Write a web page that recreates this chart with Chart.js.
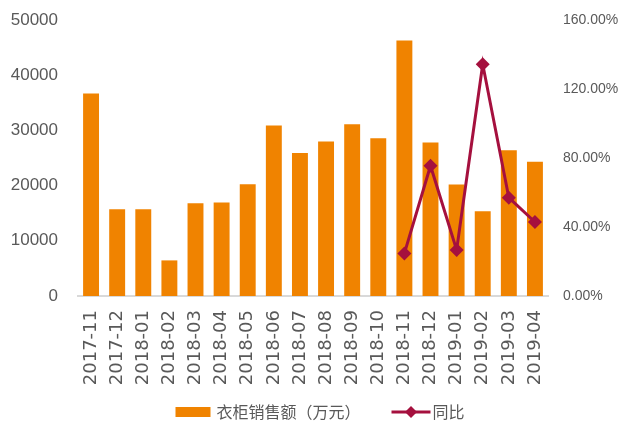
<!DOCTYPE html>
<html>
<head>
<meta charset="utf-8">
<script src="https://cdn.jsdelivr.net/npm/chart.js@4/dist/chart.umd.min.js"></script>
<style>
  html, body { margin: 0; padding: 0; background: #fff; }
  #wrap { width: 625px; height: 421px; }
</style>
</head>
<body>
<div id="wrap"><canvas id="chart"></canvas></div>
<script>
const months = ['2017-11', '2017-12', '2018-01', '2018-02', '2018-03', '2018-04', '2018-05', '2018-06', '2018-07',
  '2018-08', '2018-09', '2018-10', '2018-11', '2018-12', '2019-01', '2019-02', '2019-03', '2019-04'];
const sales = [36700, 15700, 15700, 6450, 16800, 16950, 20250, 30900, 25900,
  28000, 31100, 28600, 46300, 27800, 20200, 15350, 26400, 24300];
const yoy = [null, null, null, null, null, null, null, null, null,
  null, null, null, 24.7, 75.5, 26.7, 134.3, 57.0, 42.9];
const salesTicks = [0, 10000, 20000, 30000, 40000, 50000];
const yoyTicks = [0, 40, 80, 120, 160];

const orange = '#F08300';
const crimson = '#A5103E';
const grey = '#595959';

// legend drawn by hand so the line item can show its diamond marker
const legendPlugin = {
  id: 'bottomLegend',
  afterDraw(chart) {
    const ctx = chart.ctx;
    const ds = chart.data.datasets;
    const barLabel = ds[1].label, lineLabel = ds[0].label;
    ctx.save();
    ctx.font = '16px "Noto Sans CJK SC", sans-serif';
    const w1 = ctx.measureText(barLabel).width;
    const w2 = ctx.measureText(lineLabel).width;
    const total = 35 + 6 + w1 + 31 + 39 + 2 + w2;
    let x = 320 - total / 2;
    const y = 412;
    ctx.fillStyle = orange;
    ctx.fillRect(x, y - 5, 35, 10);
    x += 41;
    ctx.fillStyle = grey;
    ctx.textBaseline = 'middle';
    ctx.fillText(barLabel, x, y);
    x += w1 + 31;
    ctx.strokeStyle = crimson;
    ctx.lineWidth = 3;
    ctx.beginPath();
    ctx.moveTo(x, y);
    ctx.lineTo(x + 39, y);
    ctx.stroke();
    ctx.fillStyle = crimson;
    ctx.beginPath();
    ctx.moveTo(x + 19.5, y - 6);
    ctx.lineTo(x + 25.5, y);
    ctx.lineTo(x + 19.5, y + 6);
    ctx.lineTo(x + 13.5, y);
    ctx.closePath();
    ctx.fill();
    x += 41;
    ctx.fillStyle = grey;
    ctx.fillText(lineLabel, x, y);
    ctx.restore();
  }
};

new Chart(document.getElementById('chart'), {
  type: 'bar',
  data: {
    labels: months,
    datasets: [
      {
        type: 'line',
        label: '同比',
        data: yoy,
        yAxisID: 'y1',
        borderColor: crimson,
        backgroundColor: crimson,
        borderWidth: 3,
        pointStyle: 'rectRot',
        pointRadius: 7,
        pointBorderWidth: 0,
        pointBackgroundColor: crimson,
        tension: 0,
        order: 0
      },
      {
        label: '衣柜销售额（万元）',
        data: sales,
        yAxisID: 'y',
        backgroundColor: orange,
        categoryPercentage: 1,
        barPercentage: 0.61,
        order: 1
      }
    ]
  },
  options: {
    responsive: true,
    maintainAspectRatio: false,
    animation: false,
    layout: { autoPadding: false, padding: { top: 20, bottom: 0, left: 0, right: 0 } },
    plugins: {
      legend: { display: false },
      tooltip: { enabled: false }
    },
    scales: {
      x: {
        grid: { display: false, drawTicks: false },
        border: { color: '#D9D9D9', width: 2 },
        ticks: {
          color: grey,
          font: { family: '"DejaVu Sans", sans-serif', size: 18 },
          minRotation: 90,
          maxRotation: 90,
          padding: 14,
          autoSkip: false
        },
        afterFit(scale) { scale.height = 125; }
      },
      y: {
        position: 'left',
        min: 0,
        max: 50000,
        grid: { display: false, drawTicks: false },
        border: { display: false },
        afterBuildTicks(scale) { scale.ticks = salesTicks.map(v => ({ value: v })); },
        ticks: {
          color: grey,
          font: { family: '"Liberation Sans", Arial, sans-serif', size: 17 },
          padding: 20,
          callback: v => String(v)
        },
        afterFit(scale) { scale.width = 78; scale.paddingTop = 0; }
      },
      y1: {
        position: 'right',
        min: 0,
        max: 160,
        grid: { display: false, drawTicks: false },
        border: { display: false },
        afterBuildTicks(scale) { scale.ticks = yoyTicks.map(v => ({ value: v })); },
        ticks: {
          color: grey,
          font: { family: '"Liberation Sans", sans-serif', size: 14 },
          padding: 15,
          callback: v => v.toFixed(2) + '%'
        },
        afterFit(scale) { scale.width = 77; scale.paddingTop = 0; }
      }
    }
  },
  plugins: [legendPlugin]
});
</script>
</body>
</html>
